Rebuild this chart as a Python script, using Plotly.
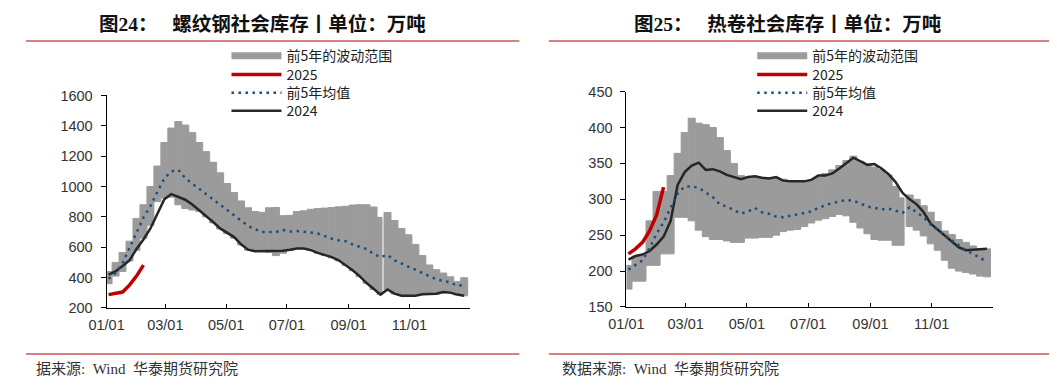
import pandas as pd
import plotly.graph_objects as go

# page is 1057x390; the browser body keeps an 8px margin, so the figure is 16px smaller
PAGE_W, PAGE_H, M = 1057, 390, 8
W, H = PAGE_W - 2 * M, PAGE_H - 2 * M


def px(x):
    return (x - M) / W


def py(y):
    return 1 - (y - M) / H


# ---------------- data ----------------
weeks = pd.date_range("2025-01-03", periods=52, freq="7D")
weeks_2025 = weeks[:6]

# 螺纹钢 (rebar)
rebar_max = [440, 500, 565, 640, 790, 880, 1000, 1135, 1290, 1385, 1428, 1405, 1355, 1290, 1230, 1160,
             1090, 1020, 960, 905, 860, 835, 830, 860, 862, 808, 810, 835, 840, 850, 855, 858,
             862, 866, 870, 878, 880, 880, 865, 797, 829, 776, 724, 682, 619, 546, 483, 452,
             430, 405, 375, 399]
rebar_min = [360, 410, 440, 510, 580, 660, 745, 900, 925, 930, 880, 855, 845, 835, 800, 760,
             720, 690, 660, 615, 580, 575, 570, 565, 545, 560, 580, 590, 590, 578, 560, 545,
             530, 510, 480, 445, 405, 362, 322, 288, 318, 292, 282, 282, 282, 288, 292, 292,
             300, 298, 286, 280]
rebar_mean = [392, 430, 495, 590, 695, 795, 871, 965, 1055, 1100, 1110, 1055, 1020, 988, 950, 912,
              880, 845, 812, 775, 740, 720, 700, 700, 700, 714, 703, 707, 703, 697, 690, 672,
              657, 646, 640, 619, 605, 588, 556, 535, 550, 514, 493, 472, 456, 430, 410, 389,
              378, 368, 347, 351]
rebar_2024 = [420, 441, 477, 514, 588, 651, 724, 818, 917, 950, 934, 913, 881, 844, 808, 766,
              724, 693, 667, 619, 584, 573, 573, 573, 573, 577, 584, 592, 592, 581, 563, 550,
              535, 514, 483, 448, 410, 364, 326, 288, 322, 294, 280, 280, 280, 290, 294, 294,
              305, 301, 288, 280]
rebar_2025 = [288, 295, 305, 350, 410, 482]

# 热卷 (hot-rolled coil)
hrc_max = [208, 221, 221, 270, 311, 311, 333, 364, 393, 413, 406, 404, 400, 386, 368, 350,
           333, 330, 330, 330, 330, 330, 328, 326, 326, 326, 327, 331, 336, 341, 347, 354,
           360, 353, 349, 345, 341, 334, 318, 302, 306, 300, 291, 282, 269, 256, 251, 244,
           240, 235, 231, 231]
hrc_min = [175, 186, 186, 208, 208, 224, 224, 275, 275, 270, 257, 248, 244, 244, 242, 240,
           240, 246, 246, 247, 247, 250, 255, 257, 258, 262, 267, 271, 273, 276, 279, 277,
           268, 260, 252, 244, 243, 243, 236, 236, 262, 257, 249, 238, 229, 215, 204, 200,
           198, 196, 193, 192]
hrc_mean = [202, 209, 215, 232, 252, 268, 287, 308, 318, 318, 316, 309, 303, 293, 290, 285,
            280, 283, 288, 282, 280, 276, 275, 277, 279, 281, 283, 288, 292, 295, 297, 299,
            298, 294, 290, 288, 286, 287, 284, 281, 289, 282, 275, 265, 257, 250, 243, 236,
            229, 224, 219, 213]
hrc_2024 = [216, 221, 223, 228, 237, 248, 270, 320, 338, 347, 351, 341, 342, 339, 334, 331,
            328, 331, 332, 330, 329, 331, 326, 325, 325, 325, 327, 333, 333, 336, 343, 351,
            358, 353, 348, 349, 343, 335, 324, 309, 300, 293, 282, 266, 258, 249, 241, 233,
            229, 230, 231, 231]
hrc_2025 = [224, 231, 240, 256, 278, 317]

tick_vals = ["2025-01-01", "2025-03-01", "2025-05-01", "2025-07-01", "2025-09-01", "2025-11-01", "2026-01-01"]
tick_text = ["01/01", "03/01", "05/01", "07/01", "09/01", "11/01", ""]

names = ["前5年的波动范围", "2025", "前5年均值", "2024"]

# ---------------- styling ----------------
GRAY = "#9B9B9B"
RED = "#C00000"
BLUE = "#1F4E79"
BLACK = "#262626"
DAY = 86400000
gap_week = 39  # holiday gap between columns
widths = [7 * DAY] * 52
widths[gap_week] = 5 * DAY
offsets = [-3.5 * DAY] * 52

leg_font = dict(family="Noto Sans CJK SC", size=14, color="#222")
row_y = [50, 69.5, 88.5, 107.5]

fig = go.Figure()


def add_panel(xa, ya, legs, vmax, vmin, vmean, v24, v25):
    fig.add_trace(go.Bar(x=weeks, y=[a - b for a, b in zip(vmax, vmin)], base=vmin,
                         width=widths, offset=offsets,
                         marker=dict(color=GRAY, line=dict(width=1, color=GRAY)),
                         showlegend=False, xaxis=xa, yaxis=ya, hoverinfo="skip"))
    fig.add_trace(go.Scatter(x=[None], y=[None], mode="lines", name=names[0],
                             line=dict(color=GRAY, width=7), xaxis=xa, yaxis=ya, legend=legs[0]))
    fig.add_trace(go.Scatter(x=weeks, y=v24, mode="lines", name=names[3],
                             line=dict(color=BLACK, width=2.5), xaxis=xa, yaxis=ya, legend=legs[3]))
    fig.add_trace(go.Scatter(x=weeks, y=vmean, mode="lines", name=names[2],
                             line=dict(color=BLUE, width=2.5, dash="2.5px,4.5px"), xaxis=xa, yaxis=ya,
                             legend=legs[2]))
    fig.add_trace(go.Scatter(x=weeks_2025, y=v25, mode="lines", name=names[1],
                             line=dict(color=RED, width=3.5), xaxis=xa, yaxis=ya, legend=legs[1]))


left_legs = ["legend", "legend2", "legend3", "legend4"]
right_legs = ["legend5", "legend6", "legend7", "legend8"]
add_panel("x", "y", left_legs, rebar_max, rebar_min, rebar_mean, rebar_2024, rebar_2025)
add_panel("x2", "y2", right_legs, hrc_max, hrc_min, hrc_mean, hrc_2024, hrc_2025)

tick_font = dict(family="Liberation Sans, Arial, sans-serif", size=14.5, color="#333333")
xcommon = dict(type="date", range=["2025-01-01", "2026-01-01"], tickvals=tick_vals, ticktext=tick_text,
               showline=True, linecolor="black", linewidth=1, ticks="inside", ticklen=4,
               tickcolor="black", showgrid=False, zeroline=False, tickfont=tick_font,
               ticklabelstandoff=4)
ycommon = dict(showline=True, linecolor="black", linewidth=1, ticks="outside", ticklen=5,
               tickcolor="black", showgrid=False, zeroline=False, tickfont=tick_font,
               ticklabelstandoff=5)

layout = dict(
    width=W, height=H, margin=dict(l=0, r=0, t=0, b=0),
    paper_bgcolor="white", plot_bgcolor="rgba(0,0,0,0)",
    barmode="overlay", showlegend=True,
    xaxis=dict(domain=[px(90), px(460)], anchor="y", **xcommon),
    yaxis=dict(domain=[py(313), py(91)], anchor="x", range=[200, 1600], dtick=200, **ycommon),
    xaxis2=dict(domain=[px(619), px(992)], anchor="y2", **xcommon),
    yaxis2=dict(domain=[py(312), py(87)], anchor="x2", range=[150, 450], dtick=50, **ycommon),
)
for legs, lx in ((left_legs, 212), (right_legs, 747)):
    for lg, ry in zip(legs, row_y):
        layout[lg] = dict(x=px(lx), y=py(ry), xanchor="left", yanchor="middle", itemwidth=50,
                          bgcolor="rgba(0,0,0,0)", font=leg_font, borderwidth=0)
fig.update_layout(**layout)

title_font = dict(family="Liberation Serif, Noto Sans CJK SC", size=19.5, color="#111")
src_font = dict(family="Liberation Serif, Noto Sans CJK SC", size=15, color="#333")
ann = dict(xref="paper", yref="paper", xanchor="left", yanchor="middle", align="left", showarrow=False)
fig.add_annotation(x=px(80), y=py(16), text="<b>图24：   螺纹钢社会库存丨单位：万吨</b>", font=title_font, **ann)
fig.add_annotation(x=px(625), y=py(16), text="<b>图25：   热卷社会库存丨单位：万吨</b>", font=title_font, **ann)
fig.add_annotation(x=px(16), y=py(376), text="据来源:  Wind  华泰期货研究院", font=src_font, **ann)
fig.add_annotation(x=px(551), y=py(376), text="数据来源:  Wind  华泰期货研究院", font=src_font, **ann)

LINE = "#D98080"
for x0, x1 in [(8, 510), (540, 1049)]:
    for yy in (34, 361):
        fig.add_shape(type="line", xref="paper", yref="paper", x0=px(x0), x1=px(x1),
                      y0=py(yy), y1=py(yy), line=dict(color=LINE, width=2))

fig.write_html("out.html", config={"displayModeBar": False})
